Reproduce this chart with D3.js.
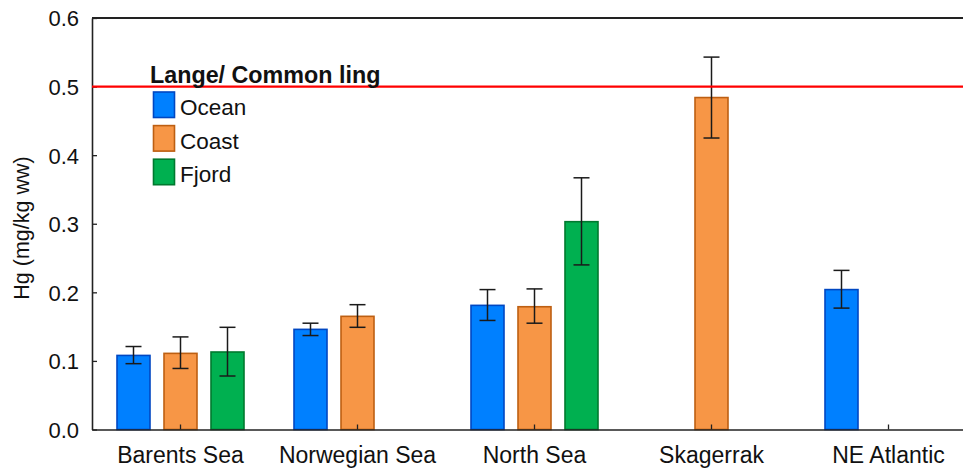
<!DOCTYPE html>
<html>
<head>
<meta charset="utf-8">
<script src="https://cdn.jsdelivr.net/npm/d3@7"></script>
<style>
  html, body { margin: 0; padding: 0; background: #fff; }
  svg { display: block; font-family: Arial, "Liberation Sans", sans-serif; }
</style>
</head>
<body>
<svg id="chart" width="963" height="468"></svg>
<script>
// Mercury in common ling (lange) by sea area and habitat
const categories = ["Barents Sea", "Norwegian Sea", "North Sea", "Skagerrak", "NE Atlantic"];
const seriesNames = ["Ocean", "Coast", "Fjord"];

const oceanMean  = [0.108, 0.146, 0.181, null, 0.204];
const oceanLow   = [0.096, 0.137, 0.159, null, 0.177];
const oceanHigh  = [0.121, 0.155, 0.204, null, 0.232];

const coastMean  = [0.111, 0.165, 0.179, 0.484, null];
const coastLow   = [0.089, 0.149, 0.155, 0.425, null];
const coastHigh  = [0.135, 0.182, 0.205, 0.543, null];

const fjordMean  = [0.113, null, 0.303, null, null];
const fjordLow   = [0.078, null, 0.240, null, null];
const fjordHigh  = [0.149, null, 0.367, null, null];

const yTicks = [0, 0.1, 0.2, 0.3, 0.4, 0.5, 0.6];
const limitValue = 0.5;
const legendTitle = "Lange/ Common ling";
const yTitle = "Hg (mg/kg ww)";

const fills   = { Ocean: "#0080ff", Coast: "#f79646", Fjord: "#00b050" };
const strokes = { Ocean: "#0047c2", Coast: "#bd5f12", Fjord: "#00792f" };

const series = [
  { name: "Ocean", mean: oceanMean, low: oceanLow, high: oceanHigh },
  { name: "Coast", mean: coastMean, low: coastLow, high: coastHigh },
  { name: "Fjord", mean: fjordMean, low: fjordLow, high: fjordHigh }
];

const rows = [];
series.forEach(s => categories.forEach((c, i) => {
  if (s.mean[i] != null) rows.push({ cat: c, name: s.name, v: s.mean[i], lo: s.low[i], hi: s.high[i] });
}));

const svg = d3.select("#chart");
const mLeft = 92, mTop = 18, mBottom = 429.5, mRight = 977;
const font = "Arial, 'Liberation Sans', sans-serif";

const x0 = d3.scaleBand().domain(categories).range([mLeft, mRight]).padding(0);
const x1 = d3.scaleBand().domain(seriesNames).range([0, x0.bandwidth()])
  .paddingInner(0.298).paddingOuter(0.532);
const y = d3.scaleLinear().domain([0, 0.6]).range([mBottom, mTop]);

// bars
svg.append("g").selectAll("rect").data(rows).join("rect")
  .attr("x", d => x0(d.cat) + x1(d.name))
  .attr("y", d => y(d.v))
  .attr("width", x1.bandwidth())
  .attr("height", d => y(0) - y(d.v))
  .attr("fill", d => fills[d.name])
  .attr("stroke", d => strokes[d.name])
  .attr("stroke-width", 1.6);

// error bars
const eb = svg.append("g").attr("stroke", "#1a1a1a").attr("stroke-width", 1.5).attr("fill", "none");
const cap = 8;
rows.forEach(d => {
  const cx = x0(d.cat) + x1(d.name) + x1.bandwidth() / 2;
  eb.append("line").attr("x1", cx).attr("x2", cx).attr("y1", y(d.lo)).attr("y2", y(d.hi));
  eb.append("line").attr("x1", cx - cap).attr("x2", cx + cap).attr("y1", y(d.lo)).attr("y2", y(d.lo));
  eb.append("line").attr("x1", cx - cap).attr("x2", cx + cap).attr("y1", y(d.hi)).attr("y2", y(d.hi));
});

// y axis with inward ticks
const yAxis = svg.append("g").attr("transform", `translate(${mLeft},0)`)
  .call(d3.axisLeft(y).tickValues(yTicks).tickFormat(d3.format(".1f")).tickSizeInner(-5).tickSizeOuter(0).tickPadding(13));
yAxis.select(".domain").attr("stroke", "#222").attr("stroke-width", 1.6);
yAxis.selectAll(".tick line").attr("stroke", "#222").attr("stroke-width", 1.3);
yAxis.selectAll(".tick text").attr("font-size", 22).attr("fill", "#111")
  .attr("font-family", font).attr("dy", "0.36em");

// top frame line
svg.append("line").attr("x1", mLeft).attr("x2", mRight).attr("y1", y(0.6)).attr("y2", y(0.6))
  .attr("stroke", "#222").attr("stroke-width", 2);

// x axis with inward ticks at category centres
const xAxis = svg.append("g").attr("transform", `translate(0,${mBottom})`)
  .call(d3.axisBottom(x0).tickSizeInner(-5).tickSizeOuter(0).tickPadding(17));
xAxis.select(".domain").attr("stroke", "#222").attr("stroke-width", 1.6);
xAxis.selectAll(".tick line").attr("stroke", "#222").attr("stroke-width", 1.3);
xAxis.selectAll(".tick text").attr("font-size", 23).attr("fill", "#111")
  .attr("font-family", font).attr("dy", "0.71em");

// limit line
svg.append("line").attr("x1", mLeft).attr("x2", mRight).attr("y1", y(limitValue)).attr("y2", y(limitValue))
  .attr("stroke", "#ff0000").attr("stroke-width", 2.4);

// y title
svg.append("text").attr("transform", "translate(29,228) rotate(-90)")
  .attr("text-anchor", "middle").attr("font-size", 21.5).attr("fill", "#111").text(yTitle);

// legend
const lg = svg.append("g");
lg.append("text").attr("x", 150).attr("y", 82.5).attr("font-size", 23.3).attr("font-weight", "bold")
  .attr("fill", "#111").text(legendTitle);
seriesNames.forEach((n, i) => {
  const yy = 92 + i * 33.6;
  lg.append("rect").attr("x", 153.5).attr("y", yy).attr("width", 21).attr("height", 25.5)
    .attr("fill", fills[n]).attr("stroke", strokes[n]).attr("stroke-width", 1.6);
  lg.append("text").attr("x", 180).attr("y", yy + 23).attr("font-size", 22.5).attr("fill", "#111").text(n);
});
</script>
</body>
</html>
